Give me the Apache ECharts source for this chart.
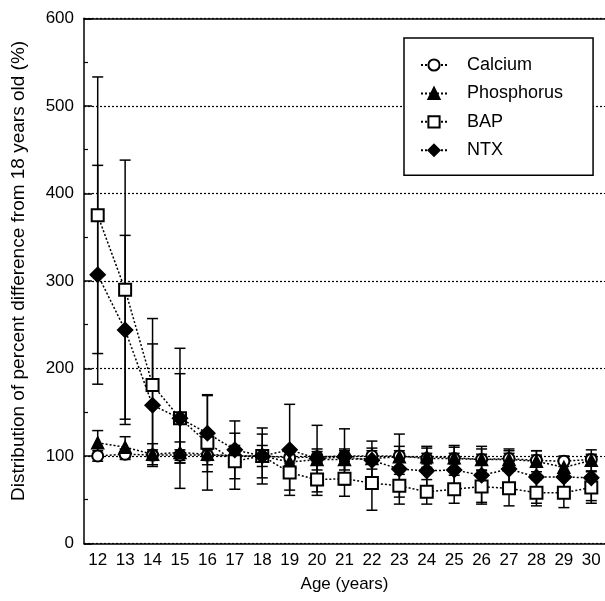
<!DOCTYPE html>
<html>
<head>
<meta charset="utf-8">
<script src="https://cdn.jsdelivr.net/npm/echarts@6/dist/echarts.min.js"></script>
<style>
  html, body { margin: 0; padding: 0; background: #fff; }
  #chart { width: 605px; height: 601px; }
</style>
</head>
<body>
<div id="chart"></div>
<script>
// ages on the x axis
const ages = ['12', '13', '14', '15', '16', '17', '18', '19', '20', '21', '22', '23', '24', '25', '26', '27', '28', '29', '30'];

// mean % of the 18 yr value, and SD for the error bars
const calcium = [100, 102, 101, 101, 101, 100, 100, 98, 99, 100, 100, 100, 97, 97, 96, 97, 95, 94, 96];
const calciumSd = [6, 6, 6, 6, 6, 6, 6, 6, 6, 6, 6, 6, 6, 6, 6, 6, 6, 6, 6];
const phosphorus = [115, 110, 102, 104, 102, 100, 100, 93, 96, 96, 97, 99, 99, 98, 96, 96, 94, 87, 95];
const phosphorusSd = [14, 12, 12, 12, 12, 12, 12, 12, 12, 12, 12, 12, 12, 12, 12, 12, 12, 12, 12];
const bap = [375, 290, 181, 143, 115, 94, 100, 81, 73, 74, 69, 66, 59, 62, 65, 63, 58, 58, 64];
const bapSd = [158, 148, 76, 80, 54, 32, 32, 20, 18, 20, 31, 13, 14, 16, 18, 20, 15, 17, 18];
const ntx = [307, 244, 158, 143, 126, 107, 100, 107, 97, 99, 95, 85, 83, 84, 78, 85, 76, 76, 75];
const ntxSd = [125, 108, 70, 51, 44, 33, 25, 52, 38, 32, 22, 40, 26, 28, 33, 21, 30, 20, 26];

const yTicks = [0, 100, 200, 300, 400, 500, 600];

const font = 'Liberation Sans, Arial, sans-serif';
const dotted = [2, 2];

const errData = (mean, sd) => mean.map((m, i) => [i, m - sd[i], m + sd[i]]);

const errorBars = (mean, sd) => ({
  type: 'custom',
  name: '',
  z: 1,
  silent: true,
  data: errData(mean, sd),
  encode: { x: 0, y: [1, 2] },
  renderItem: (params, api) => {
    const i = api.value(0);
    const lo = api.coord([i, api.value(1)]);
    const hi = api.coord([i, api.value(2)]);
    const w = 5.5;
    const style = { stroke: '#000', lineWidth: 1.5 };
    return {
      type: 'group',
      children: [
        { type: 'line', shape: { x1: lo[0], y1: lo[1], x2: hi[0], y2: hi[1] }, style },
        { type: 'line', shape: { x1: hi[0] - w, y1: hi[1], x2: hi[0] + w, y2: hi[1] }, style },
        { type: 'line', shape: { x1: lo[0] - w, y1: lo[1], x2: lo[0] + w, y2: lo[1] }, style }
      ]
    };
  }
});

const lineSeries = (name, data, symbol, size) => ({
  name,
  type: 'line',
  z: 3,
  data,
  symbol,
  symbolSize: size,
  showAllSymbol: true,
  lineStyle: { color: '#000', width: 1.5, type: dotted },
  itemStyle: { color: '#000', borderColor: '#000', borderWidth: 1.5 }
});

const chart = echarts.init(document.getElementById('chart'), null, { renderer: 'canvas' });

chart.setOption({
  backgroundColor: '#fff',
  animation: false,
  textStyle: { fontFamily: font, color: '#000' },
  grid: { left: 84, right: 0, top: 18.3, bottom: 57.5 },
  legend: {
    orient: 'vertical',
    left: 404,
    top: 38,
    data: ['Calcium', 'Phosphorus', 'BAP', 'NTX'],
    backgroundColor: '#fff',
    borderColor: '#000',
    borderWidth: 1.5,
    borderRadius: 0,
    padding: [18, 30, 16, 16],
    itemWidth: 26,
    itemHeight: 14,
    itemGap: 10.4,
    textStyle: { fontFamily: font, fontSize: 18, color: '#000', padding: [0, 0, 0, 15] }
  },
  xAxis: [{
    type: 'category',
    data: ages,
    boundaryGap: true,
    name: 'Age (years)',
    nameLocation: 'middle',
    nameGap: 32,
    nameTextStyle: { fontFamily: font, fontSize: 17, color: '#000' },
    axisLine: { lineStyle: { color: '#000', width: 1.5 } },
    axisTick: { alignWithLabel: true, inside: true, length: 7, lineStyle: { color: '#000', width: 1.5 } },
    axisLabel: { fontFamily: font, fontSize: 17, color: '#000', margin: 8 },
    splitLine: { show: false }
  }, {
    type: 'category',
    data: ages,
    position: 'top',
    axisLine: { lineStyle: { color: '#000', width: 1.5 } },
    axisTick: { show: false },
    axisLabel: { show: false }
  }],
  yAxis: {
    type: 'value',
    min: yTicks[0],
    max: yTicks[yTicks.length - 1],
    interval: 100,
    name: 'Distribution of percent difference from 18 years old (%)',
    nameLocation: 'middle',
    nameGap: 56,
    nameTextStyle: { fontFamily: font, fontSize: 19, color: '#000', padding: [0, 0, 0, 20] },
    axisLine: { show: true, lineStyle: { color: '#000', width: 1.5 } },
    axisTick: { show: true, inside: true, length: 8, lineStyle: { color: '#000', width: 1.5 } },
    minorTick: { show: true, splitNumber: 2, length: 4, lineStyle: { color: '#000', width: 1.2 } },
    axisLabel: { fontFamily: font, fontSize: 17, color: '#000', margin: 10 },
    splitLine: { show: true, lineStyle: { color: '#000', width: 1.2, type: dotted } }
  },
  series: [
    errorBars(calcium, calciumSd),
    errorBars(phosphorus, phosphorusSd),
    errorBars(bap, bapSd),
    errorBars(ntx, ntxSd),
    lineSeries('Calcium', calcium, 'emptyCircle', 11),
    lineSeries('Phosphorus', phosphorus, 'triangle', 12),
    lineSeries('BAP', bap, 'emptyRect', 12),
    lineSeries('NTX', ntx, 'diamond', 15)
  ]
});
</script>
</body>
</html>
